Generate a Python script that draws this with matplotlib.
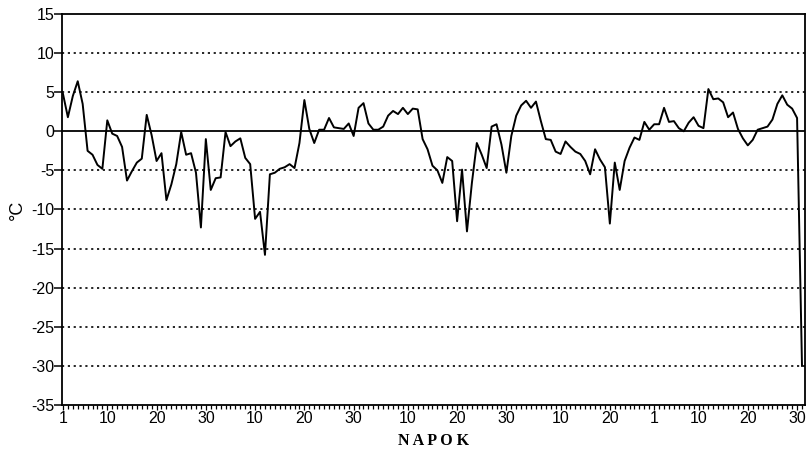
import matplotlib
matplotlib.use("Agg")
import matplotlib.pyplot as plt
import numpy as np

plt.rcParams['font.family'] = ['Liberation Sans', 'DejaVu Sans']
plt.rcParams['axes.unicode_minus'] = False

# daily mean temperature (°C), November .. March
nov = [4.8, 1.8, 4.5, 6.4, 3.5, -2.5, -3.0, -4.3, -4.8, 1.4,
       -0.3, -0.6, -2.0, -6.3, -5.1, -4.0, -3.5, 2.1, -0.5, -3.8,
       -2.8, -8.8, -6.8, -4.2, -0.1, -3.0, -2.8, -5.3, -12.3, -1.0]
dec = [-7.5, -6.0, -5.9, -0.1, -1.9, -1.3, -0.9, -3.4, -4.2, -11.2,
       -10.3, -15.8, -5.5, -5.3, -4.8, -4.6, -4.2, -4.7, -1.5, 4.0,
       0.3, -1.5, 0.2, 0.2, 1.7, 0.5, 0.4, 0.3, 1.0, -0.6, 3.0]
jan = [3.6, 1.0, 0.2, 0.2, 0.6, 2.0, 2.6, 2.2, 3.0, 2.2,
       2.9, 2.8, -1.0, -2.3, -4.4, -5.0, -6.6, -3.3, -3.8, -11.5,
       -4.9, -12.8, -6.6, -1.5, -3.0, -4.7, 0.6, 0.9, -1.7, -5.3, -0.6]
feb = [2.0, 3.3, 3.9, 3.0, 3.8, 1.3, -1.0, -1.1, -2.6, -2.9,
       -1.3, -2.0, -2.6, -2.9, -3.8, -5.5, -2.3, -3.6, -4.6, -11.8,
       -4.0, -7.5, -3.8, -2.1, -0.8, -1.1, 1.2, 0.2]
mar = [0.9, 0.9, 3.0, 1.2, 1.3, 0.4, 0.0, 1.1, 1.8, 0.7,
       0.4, 5.4, 4.1, 4.2, 3.7, 1.8, 2.4, 0.3, -0.9, -1.8,
       -1.1, 0.2, 0.4, 0.6, 1.5, 3.5, 4.6, 3.4, 2.9, 1.7, -30.0]

# tick labels: day of month, running day index
tick_days = [1, 10, 20, 30, 40, 50, 60, 71, 81, 91, 102, 112, 121, 130, 140, 150]
tick_labels = ['1', '10', '20', '30', '10', '20', '30', '10', '20', '30',
               '10', '20', '1', '10', '20', '30']

temps = np.array(nov + dec + jan + feb + mar)
days = np.arange(1, len(temps) + 1)

fig = plt.figure(figsize=(8.09, 4.51), dpi=100)
ax = fig.add_axes([0.0766, 0.102, 0.9184, 0.867])

for v in range(-30, 15, 5):
    if v == 0:
        ax.axhline(0, color='black', lw=1.3, zorder=1)
    else:
        ax.axhline(v, color='black', lw=1.2, ls=(0, (1.3, 2.2)), zorder=1)

ax.plot(days, temps, color='black', lw=1.4, zorder=2)

ax.set_xlim(0.8, 151.6)
ax.set_ylim(-35, 15)
ax.set_yticks(np.arange(-35, 16, 5))
ax.set_xticks(tick_days)
ax.set_xticklabels(tick_labels)
ax.set_xticks(days, minor=True)

ax.tick_params(axis='y', direction='out', length=5.5, width=1.1, labelsize=11.5, pad=0)
ax.tick_params(axis='x', which='major', direction='out', length=3.5, width=0.9,
               labelsize=11.5, pad=1)
ax.tick_params(axis='x', which='minor', direction='out', length=3, width=0.9)

for s in ax.spines.values():
    s.set_linewidth(1.3)

ax.set_ylabel('°C', fontsize=13, labelpad=4)
ax.set_xlabel('N A P O K', fontsize=11.5, fontweight='bold',
              family='Liberation Serif', labelpad=5)

fig.savefig('out.png', dpi=100)
